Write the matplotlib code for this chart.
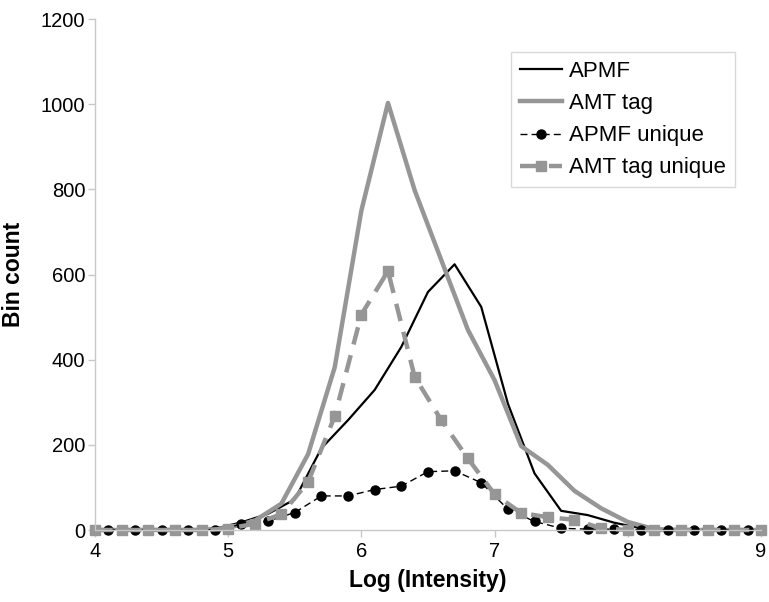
import matplotlib.pyplot as plt
import numpy as np

plt.rcParams['font.family'] = ['Liberation Sans', 'DejaVu Sans']

# APMF series sampled on odd tenths, AMT tag series on even tenths
x_odd = [4.1, 4.3, 4.5, 4.7, 4.9, 5.1, 5.3, 5.5, 5.7, 5.9, 6.1, 6.3, 6.5, 6.7,
         6.9, 7.1, 7.3, 7.5, 7.7, 7.9, 8.1, 8.3, 8.5, 8.7, 8.9]
x_even = [4.0, 4.2, 4.4, 4.6, 4.8, 5.0, 5.2, 5.4, 5.6, 5.8, 6.0, 6.2, 6.4, 6.6,
          6.8, 7.0, 7.2, 7.4, 7.6, 7.8, 8.0, 8.2, 8.4, 8.6, 8.8, 9.0]

apmf = [0, 0, 0, 0, 3, 18, 38, 72, 192, 258, 329, 430, 559, 624,
        524, 297, 133, 45, 35, 17, 4, 0, 0, 0, 0]
amt_tag = [0, 0, 0, 0, 0, 5, 22, 62, 178, 382, 750, 1003, 798, 634,
           470, 352, 197, 153, 92, 51, 19, 2, 0, 0, 0, 0]
apmf_unique = [0, 0, 0, 0, 1, 13, 21, 41, 80, 80, 95, 103, 137, 139,
               111, 49, 20, 4, 2, 2, 0, 0, 0, 0, 0]
amt_tag_unique = [0, 0, 0, 0, 0, 3, 15, 37, 113, 267, 506, 608, 360, 258,
                  168, 84, 40, 30, 24, 4, 0, 0, 0, 0, 0, 0]

grey = '#969696'
axis_grey = '#c8c8c8'

fig = plt.figure(figsize=(7.69, 6.02), dpi=100)
ax = fig.add_axes([0.1235, 0.1196, 0.866, 0.8488])

ax.plot(x_odd, apmf, color='black', lw=1.6, label='APMF')
ax.plot(x_even, amt_tag, color=grey, lw=3.2, label='AMT tag')
ax.plot(x_odd, apmf_unique, color='black', lw=1.0, ls=(0, (5, 3)),
        marker='o', ms=6.5, label='APMF unique', clip_on=False)
ax.plot(x_even, amt_tag_unique, color=grey, lw=3.2, ls=(0, (4, 2.5)),
        marker='s', ms=6.5, label='AMT tag unique', clip_on=False)

ax.set_xlim(4, 9)
ax.set_ylim(0, 1200)
ax.set_xticks(np.arange(4, 10, 1))
ax.set_yticks(np.arange(0, 1400, 200))
ax.tick_params(labelsize=14.5, color=axis_grey, length=5, width=1)
ax.tick_params(axis='y', pad=2)

for s in ['top', 'right']:
    ax.spines[s].set_visible(False)
for s in ['left', 'bottom']:
    ax.spines[s].set_color(axis_grey)
    ax.spines[s].set_linewidth(1)

ax.set_xlabel('Log (Intensity)', fontsize=16.5, fontweight='bold', labelpad=6)
ax.set_ylabel('Bin count', fontsize=16.5, fontweight='bold')
ax.yaxis.set_label_coords(-0.105, 0.5)

leg = ax.legend(loc='upper left', bbox_to_anchor=(0.625, 0.935), borderaxespad=0,
                fontsize=16, frameon=True, fancybox=False, handlelength=1.9,
                handletextpad=0.3, labelspacing=0.5, borderpad=0.4)
leg.get_frame().set_edgecolor('#d0d0d0')
leg.get_frame().set_linewidth(1)

fig.savefig('out.png', dpi=100)
